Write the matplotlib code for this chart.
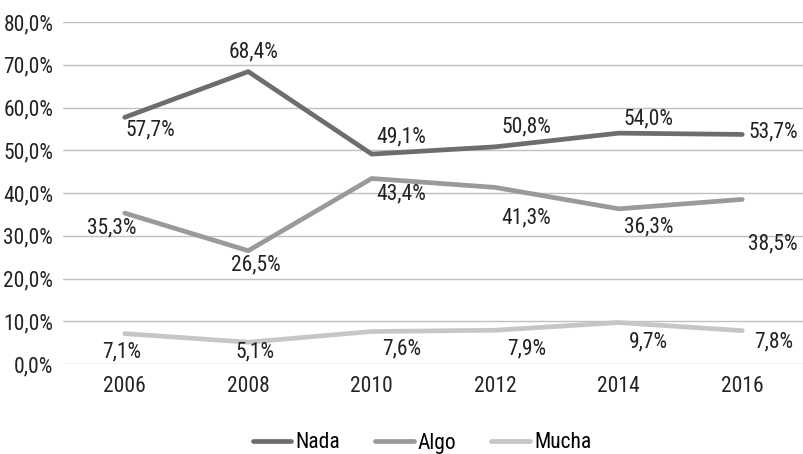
import matplotlib
matplotlib.use("Agg")
import matplotlib.pyplot as plt
from matplotlib import font_manager as fm

years = ["2006", "2008", "2010", "2012", "2014", "2016"]
nada = [57.7, 68.4, 49.1, 50.8, 54.0, 53.7]
algo = [35.3, 26.5, 43.4, 41.3, 36.3, 38.5]
mucha = [7.1, 5.1, 7.6, 7.9, 9.7, 7.8]
y_ticks = [0, 10, 20, 30, 40, 50, 60, 70, 80]

# label offsets (pixels) for each point
off_nada = [(26, -13), (5, 20), (30, 17), (31, 20), (30, 14), (31, 2)]
off_algo = [(-13, -15), (8, -14), (30, -15), (31, -30), (30, -18), (31, -45)]
off_mucha = [(-3, -18), (7, -10), (30, -17), (31, -19), (30, -19), (31, -11)]

names = {f.name for f in fm.fontManager.ttflist}
fam = "Roboto"
for cand in ["Roboto Condensed", "Liberation Sans Narrow", "Open Sans Condensed", "Noto Sans Condensed"]:
    if cand in names:
        fam = cand
        break
plt.rcParams["font.family"] = [fam, "DejaVu Sans"]
plt.rcParams["font.stretch"] = "condensed"

fig = plt.figure(figsize=(8.04, 4.54), dpi=100)
ax = fig.add_axes([63 / 804, 1 - 364 / 454, (804 - 63) / 804, (364 - 22) / 454])

x = list(range(len(years)))
series = [("Nada", nada, "#6d6d6f", off_nada),
          ("Algo", algo, "#9a9a9c", off_algo),
          ("Mucha", mucha, "#c6c6c8", off_mucha)]
for name, vals, col, offs in series:
    ax.plot(x, vals, color=col, lw=3.4, label=name, solid_capstyle="round", zorder=3)
    for xi, v, o in zip(x, vals, offs):
        ax.annotate(f"{v:.1f}%".replace(".", ","), (xi, v), xytext=o,
                    textcoords="offset pixels", ha="center", va="center",
                    fontsize=15.5, color="#222222", zorder=4)

ax.set_xlim(-0.5, len(years) - 0.5)
ax.set_ylim(0, 80)
ax.set_yticks(y_ticks)
ax.set_yticklabels([f"{t:.1f}%".replace(".", ",") for t in y_ticks])
ax.set_xticks(x)
ax.set_xticklabels(years)
ax.grid(axis="y", color="#c0c0c0", lw=1)
ax.set_axisbelow(True)
for s in ax.spines.values():
    s.set_visible(False)
ax.tick_params(length=0, labelsize=15.5, colors="#222222")
ax.tick_params(axis="x", pad=9)
ax.tick_params(axis="y", pad=7)

fig.legend(loc="center", bbox_to_anchor=(422 / 804, 1 - 443 / 454), ncol=3, frameon=False,
           fontsize=15.5, handlelength=1.8, columnspacing=1.6, handletextpad=0.2)

fig.savefig("out.png", dpi=100)
